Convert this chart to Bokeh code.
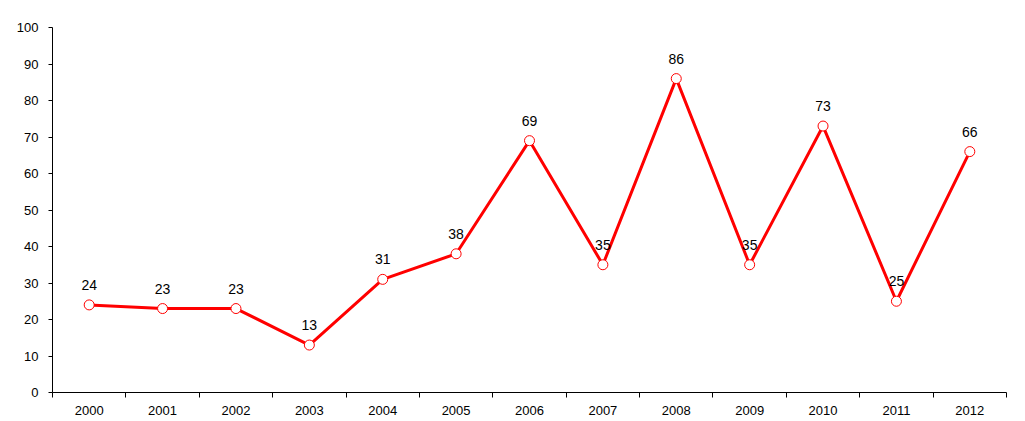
from bokeh.plotting import figure
from bokeh.models import ColumnDataSource, FixedTicker, Range1d, LabelSet
from bokeh.core.properties import value
from bokeh.embed import file_html
from bokeh.resources import INLINE

years = [2000, 2001, 2002, 2003, 2004, 2005, 2006, 2007, 2008, 2009, 2010, 2011, 2012]
values = [24, 23, 23, 13, 31, 38, 69, 35, 86, 35, 73, 25, 66]
y_ticks = [0, 10, 20, 30, 40, 50, 60, 70, 80, 90, 100]

src = ColumnDataSource(dict(x=years, y=values, lbl=[str(v) for v in values]))

p = figure(width=1025, height=421, output_backend="svg", toolbar_location=None,
           x_range=Range1d(years[0] - 0.5, years[-1] + 0.5), y_range=Range1d(0, 100),
           min_border_left=52, min_border_right=19, min_border_top=27, min_border_bottom=29)
p.outline_line_color = None
p.grid.visible = False
p.background_fill_color = "white"
p.border_fill_color = "white"

p.line("x", "y", source=src, line_color="#ff0000", line_width=3)
p.scatter("x", "y", source=src, size=10, fill_color="white", line_color="#ff0000", line_width=1)

labels = LabelSet(x="x", y="y", text="lbl", source=src, text_align="center",
                  text_baseline="bottom", y_offset=15, text_font=value("Liberation Sans"),
                  text_font_size=value("14px"), text_color="black")
p.add_layout(labels)

xa = p.xaxis[0]
xa.ticker = FixedTicker(ticks=years, minor_ticks=[y - 0.5 for y in years] + [years[-1] + 0.5])
xa.major_tick_out = 0
xa.major_tick_in = 0
xa.minor_tick_out = 5
xa.minor_tick_in = 0
xa.minor_tick_line_color = "black"
xa.axis_line_color = "black"
xa.major_label_text_font = "Liberation Sans"
xa.major_label_text_font_size = "13px"
xa.major_label_text_color = "black"
xa.major_label_standoff = 8

ya = p.yaxis[0]
ya.ticker = FixedTicker(ticks=y_ticks)
ya.major_tick_out = 4
ya.major_tick_in = 0
ya.minor_tick_out = 0
ya.minor_tick_in = 0
ya.axis_line_color = "black"
ya.major_tick_line_color = "black"
ya.major_label_text_font = "Liberation Sans"
ya.major_label_text_font_size = "13px"
ya.major_label_text_color = "black"
ya.major_label_standoff = 10

open("out.html", "w").write(file_html(p, INLINE))
